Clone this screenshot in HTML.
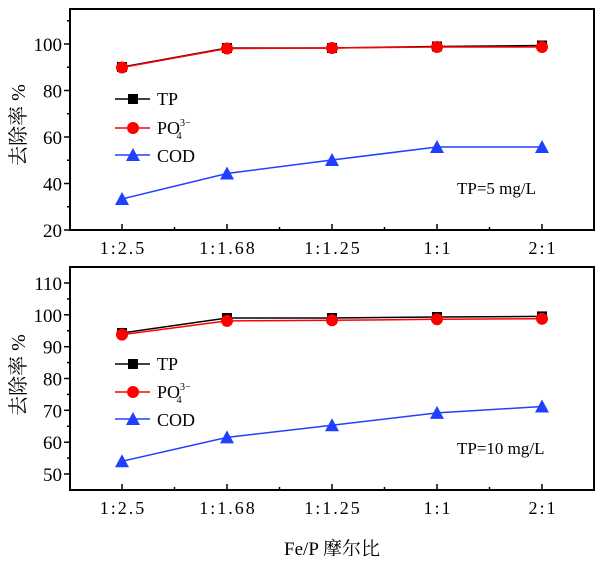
<!DOCTYPE html>
<html><head><meta charset="utf-8"><style>
body{margin:0;background:#fff}
svg text{font-family:"Liberation Serif","Noto Serif CJK SC",serif;fill:#000}
.xt{letter-spacing:2px}
</style></head><body>
<svg width="600" height="556" viewBox="0 0 600 556" xmlns="http://www.w3.org/2000/svg">
<g id="top">
<rect x="70" y="9" width="524" height="221" fill="none" stroke="#000" stroke-width="2"/>
<g stroke="#000" stroke-width="1.5">
<line x1="64" y1="230" x2="70" y2="230"/><line x1="64" y1="183.5" x2="70" y2="183.5"/><line x1="64" y1="137" x2="70" y2="137"/><line x1="64" y1="90.5" x2="70" y2="90.5"/><line x1="64" y1="44" x2="70" y2="44"/>
<line x1="67" y1="206.75" x2="70" y2="206.75"/><line x1="67" y1="160.25" x2="70" y2="160.25"/><line x1="67" y1="113.75" x2="70" y2="113.75"/><line x1="67" y1="67.25" x2="70" y2="67.25"/><line x1="67" y1="20.75" x2="70" y2="20.75"/>
<line x1="122" y1="230" x2="122" y2="224"/><line x1="227" y1="230" x2="227" y2="224"/><line x1="332" y1="230" x2="332" y2="224"/><line x1="437" y1="230" x2="437" y2="224"/><line x1="542" y1="230" x2="542" y2="224"/>
<line x1="174.5" y1="230" x2="174.5" y2="227"/><line x1="279.5" y1="230" x2="279.5" y2="227"/><line x1="384.5" y1="230" x2="384.5" y2="227"/><line x1="489.5" y1="230" x2="489.5" y2="227"/>
</g>
<g font-size="19" text-anchor="end">
<text x="62" y="237">20</text><text x="62" y="190.5">40</text><text x="62" y="144">60</text><text x="62" y="97.5">80</text><text x="62" y="51">100</text>
</g>
<g font-size="18" text-anchor="middle" class="xt">
<text x="123" y="254">1:2.5</text><text x="228" y="254">1:1.68</text><text x="333" y="254">1:1.25</text><text x="438" y="254">1:1</text><text x="543" y="254">2:1</text>
</g>
<text font-size="20" transform="translate(25,125) rotate(-90)" text-anchor="middle">去除率 %</text>
<polyline points="122,67 227,48 332,48 437,46.5 542,45.5" fill="none" stroke="#000" stroke-width="1.5"/>
<g fill="#000"><rect x="117" y="62" width="10" height="10"/><rect x="222" y="43" width="10" height="10"/><rect x="327" y="43" width="10" height="10"/><rect x="432" y="41.5" width="10" height="10"/><rect x="537" y="40.5" width="10" height="10"/></g>
<polyline points="122,67.5 227,48.5 332,48 437,47 542,47" fill="none" stroke="#f00" stroke-width="1.5"/>
<g fill="#f00"><circle cx="122" cy="67.5" r="6"/><circle cx="227" cy="48.5" r="6"/><circle cx="332" cy="48" r="6"/><circle cx="437" cy="47" r="6"/><circle cx="542" cy="47" r="6"/></g>
<polyline points="122,199 227,173.5 332,160 437,147 542,147" fill="none" stroke="#2040ff" stroke-width="1.5"/>
<g fill="#2040ff"><polygon points="122,192 115,205 129,205"/><polygon points="227,166.5 220,179.5 234,179.5"/><polygon points="332,153 325,166 339,166"/><polygon points="437,140 430,153 444,153"/><polygon points="542,140 535,153 549,153"/></g>
<line x1="115" y1="99" x2="150" y2="99" stroke="#000" stroke-width="1.5"/><rect x="128" y="94" width="10" height="10" fill="#000"/>
<text x="157" y="105" font-size="18">TP</text>
<line x1="115" y1="128" x2="150" y2="128" stroke="#f00" stroke-width="1.5"/><circle cx="133" cy="128" r="6" fill="#f00"/>
<text x="157" y="134" font-size="18">PO<tspan font-size="10" dy="-8">3−</tspan><tspan font-size="10" dx="-14" dy="13">4</tspan></text>
<line x1="115" y1="155" x2="150" y2="155" stroke="#2040ff" stroke-width="1.5"/><polygon points="133,148 126,161 140,161" fill="#2040ff"/>
<text x="157" y="162" font-size="18">COD</text>
<text x="457" y="194" font-size="17">TP=5 mg/L</text>
</g>
<g id="bot">
<rect x="70" y="267" width="524" height="223" fill="none" stroke="#000" stroke-width="2"/>
<g stroke="#000" stroke-width="1.5">
<line x1="64" y1="474" x2="70" y2="474"/><line x1="64" y1="442.2" x2="70" y2="442.2"/><line x1="64" y1="410.3" x2="70" y2="410.3"/><line x1="64" y1="378.5" x2="70" y2="378.5"/><line x1="64" y1="346.7" x2="70" y2="346.7"/><line x1="64" y1="314.8" x2="70" y2="314.8"/><line x1="64" y1="283" x2="70" y2="283"/>
<line x1="67" y1="458.1" x2="70" y2="458.1"/><line x1="67" y1="426.2" x2="70" y2="426.2"/><line x1="67" y1="394.4" x2="70" y2="394.4"/><line x1="67" y1="362.6" x2="70" y2="362.6"/><line x1="67" y1="330.7" x2="70" y2="330.7"/><line x1="67" y1="298.9" x2="70" y2="298.9"/>
<line x1="122" y1="490" x2="122" y2="484"/><line x1="227" y1="490" x2="227" y2="484"/><line x1="332" y1="490" x2="332" y2="484"/><line x1="437" y1="490" x2="437" y2="484"/><line x1="542" y1="490" x2="542" y2="484"/>
<line x1="174.5" y1="490" x2="174.5" y2="487"/><line x1="279.5" y1="490" x2="279.5" y2="487"/><line x1="384.5" y1="490" x2="384.5" y2="487"/><line x1="489.5" y1="490" x2="489.5" y2="487"/>
</g>
<g font-size="19" text-anchor="end">
<text x="62" y="481">50</text><text x="62" y="449.2">60</text><text x="62" y="417.3">70</text><text x="62" y="385.5">80</text><text x="62" y="353.7">90</text><text x="62" y="321.8">100</text><text x="62" y="290">110</text>
</g>
<g font-size="18" text-anchor="middle" class="xt">
<text x="123" y="514">1:2.5</text><text x="228" y="514">1:1.68</text><text x="333" y="514">1:1.25</text><text x="438" y="514">1:1</text><text x="543" y="514">2:1</text>
</g>
<text font-size="20" transform="translate(25,375) rotate(-90)" text-anchor="middle">去除率 %</text>
<text x="332" y="555" font-size="19" text-anchor="middle">Fe/P 摩尔比</text>
<polyline points="122,333 227,318 332,318 437,317 542,316.4" fill="none" stroke="#000" stroke-width="1.5"/>
<g fill="#000"><rect x="117" y="328" width="10" height="10"/><rect x="222" y="313" width="10" height="10"/><rect x="327" y="313" width="10" height="10"/><rect x="432" y="312" width="10" height="10"/><rect x="537" y="311.4" width="10" height="10"/></g>
<polyline points="122,334.6 227,320.9 332,320.3 437,319.3 542,318.7" fill="none" stroke="#f00" stroke-width="1.5"/>
<g fill="#f00"><circle cx="122" cy="334.6" r="6"/><circle cx="227" cy="320.9" r="6"/><circle cx="332" cy="320.3" r="6"/><circle cx="437" cy="319.3" r="6"/><circle cx="542" cy="318.7" r="6"/></g>
<polyline points="122,461.3 227,437.4 332,425.3 437,412.9 542,406.5" fill="none" stroke="#2040ff" stroke-width="1.5"/>
<g fill="#2040ff"><polygon points="122,454.3 115,467.3 129,467.3"/><polygon points="227,430.4 220,443.4 234,443.4"/><polygon points="332,418.3 325,431.3 339,431.3"/><polygon points="437,405.9 430,418.9 444,418.9"/><polygon points="542,399.5 535,412.5 549,412.5"/></g>
<line x1="115" y1="364" x2="150" y2="364" stroke="#000" stroke-width="1.5"/><rect x="128" y="359" width="10" height="10" fill="#000"/>
<text x="157" y="370" font-size="18">TP</text>
<line x1="115" y1="392" x2="150" y2="392" stroke="#f00" stroke-width="1.5"/><circle cx="133" cy="392" r="6" fill="#f00"/>
<text x="157" y="398" font-size="18">PO<tspan font-size="10" dy="-8">3−</tspan><tspan font-size="10" dx="-14" dy="13">4</tspan></text>
<line x1="115" y1="419" x2="150" y2="419" stroke="#2040ff" stroke-width="1.5"/><polygon points="133,412 126,425 140,425" fill="#2040ff"/>
<text x="157" y="426" font-size="18">COD</text>
<text x="457" y="454" font-size="17">TP=10 mg/L</text>
</g>
</svg>
</body></html>
